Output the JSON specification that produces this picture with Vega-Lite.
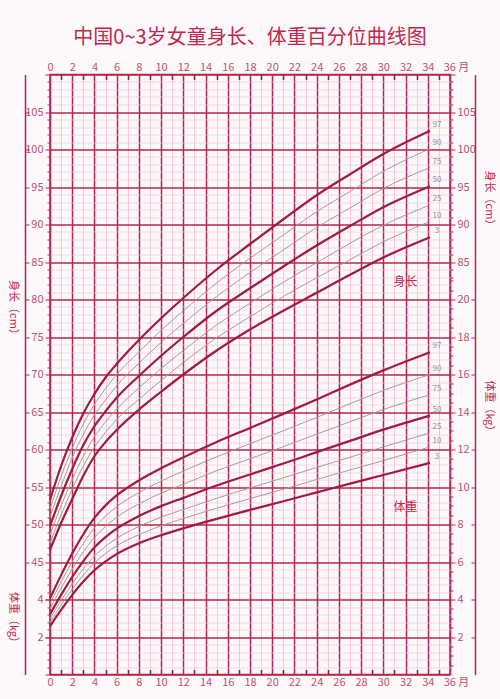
{
  "$schema": "https://vega.github.io/schema/vega-lite/v6.json",
  "autosize": {"type": "none"},
  "padding": {"left": 50, "top": 74.5, "right": 50, "bottom": 24.5},
  "width": 400,
  "height": 600,
  "background": "#fdf8f9",
  "title": {"text": "中国0~3岁女童身长、体重百分位曲线图", "fontSize": 20, "font": "Noto Sans CJK SC", "fontWeight": "normal", "color": "#c0284f", "offset": 14, "anchor": "middle"},
  "config": {
    "view": {"stroke": "#b8244c", "strokeWidth": 1.5},
    "axis": {"labelFont": "Noto Sans CJK SC", "titleFont": "Noto Sans CJK SC", "labelColor": "#b85570", "titleColor": "#c0284f", "labelFontSize": 11, "titleFontSize": 11, "titleFontWeight": "normal", "titleBaseline": "middle", "titleAlign": "center", "tickColor": "#b8244c", "domainColor": "#b8244c", "labelOverlap": false, "labelFlush": false}
  },
  "datasets": {
    "curves": [
      {"m":0,"p":"3","L":46.6,"w":2.58},{"m":0,"p":"10","L":47.5,"w":2.78},{"m":0,"p":"25","L":48.6,"w":2.97},{"m":0,"p":"50","L":49.8,"w":3.21},{"m":0,"p":"75","L":51.0,"w":3.50},{"m":0,"p":"90","L":52.1,"w":3.77},{"m":0,"p":"97","L":53.3,"w":4.06},
      {"m":1,"p":"3","L":50.2,"w":3.45},{"m":1,"p":"10","L":51.3,"w":3.71},{"m":1,"p":"25","L":52.5,"w":3.95},{"m":1,"p":"50","L":53.8,"w":4.25},{"m":1,"p":"75","L":55.1,"w":4.61},{"m":1,"p":"90","L":56.4,"w":4.94},{"m":1,"p":"97","L":57.8,"w":5.30},
      {"m":2,"p":"3","L":53.4,"w":4.25},{"m":2,"p":"10","L":54.7,"w":4.55},{"m":2,"p":"25","L":56.0,"w":4.84},{"m":2,"p":"50","L":57.4,"w":5.20},{"m":2,"p":"75","L":58.9,"w":5.63},{"m":2,"p":"90","L":60.2,"w":6.03},{"m":2,"p":"97","L":61.6,"w":6.45},
      {"m":3,"p":"3","L":56.5,"w":4.96},{"m":3,"p":"10","L":57.8,"w":5.31},{"m":3,"p":"25","L":59.1,"w":5.64},{"m":3,"p":"50","L":60.6,"w":6.05},{"m":3,"p":"75","L":62.0,"w":6.54},{"m":3,"p":"90","L":63.4,"w":6.99},{"m":3,"p":"97","L":64.8,"w":7.48},
      {"m":4,"p":"3","L":59.1,"w":5.56},{"m":4,"p":"10","L":60.3,"w":5.95},{"m":4,"p":"25","L":61.7,"w":6.32},{"m":4,"p":"50","L":63.1,"w":6.78},{"m":4,"p":"75","L":64.6,"w":7.31},{"m":4,"p":"90","L":66.0,"w":7.82},{"m":4,"p":"97","L":67.4,"w":8.35},
      {"m":5,"p":"3","L":61.0,"w":6.03},{"m":5,"p":"10","L":62.3,"w":6.45},{"m":5,"p":"25","L":63.7,"w":6.84},{"m":5,"p":"50","L":65.1,"w":7.33},{"m":5,"p":"75","L":66.6,"w":7.90},{"m":5,"p":"90","L":68.1,"w":8.45},{"m":5,"p":"97","L":69.6,"w":9.02},
      {"m":6,"p":"3","L":62.6,"w":6.42},{"m":6,"p":"10","L":64.0,"w":6.86},{"m":6,"p":"25","L":65.4,"w":7.26},{"m":6,"p":"50","L":66.9,"w":7.78},{"m":6,"p":"75","L":68.5,"w":8.38},{"m":6,"p":"90","L":70.0,"w":8.95},{"m":6,"p":"97","L":71.4,"w":9.55},
      {"m":8,"p":"3","L":65.3,"w":7.00},{"m":8,"p":"10","L":66.7,"w":7.46},{"m":8,"p":"25","L":68.2,"w":7.90},{"m":8,"p":"50","L":69.8,"w":8.45},{"m":8,"p":"75","L":71.5,"w":9.10},{"m":8,"p":"90","L":73.0,"w":9.70},{"m":8,"p":"97","L":74.6,"w":10.35},
      {"m":10,"p":"3","L":67.7,"w":7.43},{"m":10,"p":"10","L":69.2,"w":7.93},{"m":10,"p":"25","L":70.8,"w":8.39},{"m":10,"p":"50","L":72.5,"w":8.98},{"m":10,"p":"75","L":74.3,"w":9.67},{"m":10,"p":"90","L":75.9,"w":10.31},{"m":10,"p":"97","L":77.5,"w":11.00},
      {"m":12,"p":"3","L":70.0,"w":7.80},{"m":12,"p":"10","L":71.6,"w":8.32},{"m":12,"p":"25","L":73.2,"w":8.80},{"m":12,"p":"50","L":75.0,"w":9.42},{"m":12,"p":"75","L":76.8,"w":10.15},{"m":12,"p":"90","L":78.5,"w":10.85},{"m":12,"p":"97","L":80.2,"w":11.58},
      {"m":15,"p":"3","L":73.2,"w":8.30},{"m":15,"p":"10","L":74.9,"w":8.87},{"m":15,"p":"25","L":76.6,"w":9.40},{"m":15,"p":"50","L":78.5,"w":10.08},{"m":15,"p":"75","L":80.4,"w":10.87},{"m":15,"p":"90","L":82.2,"w":11.61},{"m":15,"p":"97","L":84.0,"w":12.40},
      {"m":18,"p":"3","L":76.0,"w":8.78},{"m":18,"p":"10","L":77.7,"w":9.38},{"m":18,"p":"25","L":79.5,"w":9.95},{"m":18,"p":"50","L":81.5,"w":10.67},{"m":18,"p":"75","L":83.6,"w":11.51},{"m":18,"p":"90","L":85.5,"w":12.31},{"m":18,"p":"97","L":87.4,"w":13.15},
      {"m":21,"p":"3","L":78.5,"w":9.24},{"m":21,"p":"10","L":80.4,"w":9.88},{"m":21,"p":"25","L":82.3,"w":10.49},{"m":21,"p":"50","L":84.4,"w":11.25},{"m":21,"p":"75","L":86.6,"w":12.15},{"m":21,"p":"90","L":88.6,"w":13.00},{"m":21,"p":"97","L":90.7,"w":13.90},
      {"m":24,"p":"3","L":80.9,"w":9.71},{"m":24,"p":"10","L":82.9,"w":10.40},{"m":24,"p":"25","L":84.9,"w":11.04},{"m":24,"p":"50","L":87.2,"w":11.86},{"m":24,"p":"75","L":89.6,"w":12.82},{"m":24,"p":"90","L":91.7,"w":13.71},{"m":24,"p":"97","L":93.9,"w":14.67},
      {"m":27,"p":"3","L":83.3,"w":10.18},{"m":27,"p":"10","L":85.3,"w":10.91},{"m":27,"p":"25","L":87.5,"w":11.59},{"m":27,"p":"50","L":89.8,"w":12.46},{"m":27,"p":"75","L":92.2,"w":13.48},{"m":27,"p":"90","L":94.4,"w":14.44},{"m":27,"p":"97","L":96.7,"w":15.46},
      {"m":30,"p":"3","L":85.6,"w":10.64},{"m":30,"p":"10","L":87.7,"w":11.41},{"m":30,"p":"25","L":89.9,"w":12.14},{"m":30,"p":"50","L":92.3,"w":13.06},{"m":30,"p":"75","L":94.8,"w":14.13},{"m":30,"p":"90","L":97.1,"w":15.15},{"m":30,"p":"97","L":99.4,"w":16.22},
      {"m":34.2,"p":"3","L":88.3,"w":11.29},{"m":34.2,"p":"10","L":90.4,"w":12.14},{"m":34.2,"p":"25","L":92.6,"w":12.89},{"m":34.2,"p":"50","L":95.1,"w":13.81},{"m":34.2,"p":"75","L":97.6,"w":14.93},{"m":34.2,"p":"90","L":100.1,"w":16.00},{"m":34.2,"p":"97","L":102.5,"w":17.19}
    ]
  },
  "resolve": {"scale": {"x": "independent", "y": "independent"}},
  "layer": [
    {
      "data": {"name": "curves"},
      "mark": {"type": "line", "interpolate": "monotone"},
      "encoding": {
        "x": {"field": "m", "type": "quantitative", "scale": {"domain": [0, 36], "nice": false, "zero": false},
          "axis": {"orient": "bottom", "values": [0,1,2,3,4,5,6,7,8,9,10,11,12,13,14,15,16,17,18,19,20,21,22,23,24,25,26,27,28,29,30,31,32,33,34,35,36],
            "labelExpr": "datum.value % 2 == 0 ? (datum.value == 36 ? '36 月' : datum.label) : ''",
            "labelOffset": {"condition": {"test": "datum.value == 36", "value": 6}, "value": 0},
            "labelPadding": 7, "ticks": true, "tickSize": -5, "tickWidth": 1.5, "tickColor": "#8e1a3e",
            "tickOpacity": {"condition": {"test": "datum.value % 2 == 1", "value": 1}, "value": 0},
            "domain": false, "grid": true,
            "gridColor": {"condition": {"test": "datum.value % 2 == 0", "value": "#b8244c"}, "value": "#f0bccb"},
            "gridWidth": {"condition": {"test": "datum.value % 2 == 0", "value": 1.5}, "value": 0.8},
            "title": null}},
        "y": {"field": "L", "type": "quantitative", "scale": {"domain": [30, 110], "nice": false, "zero": false},
          "axis": {"orient": "left", "values": [30,31,32,33,34,35,36,37,38,39,40,41,42,43,44,45,46,47,48,49,50,51,52,53,54,55,56,57,58,59,60,61,62,63,64,65,66,67,68,69,70,71,72,73,74,75,76,77,78,79,80,81,82,83,84,85,86,87,88,89,90,91,92,93,94,95,96,97,98,99,100,101,102,103,104,105,106,107,108,109,110],
            "labelExpr": "datum.value % 5 == 0 && datum.value >= 45 && datum.value <= 105 ? datum.label : ''",
            "tickSize": {"condition": {"test": "datum.value % 5 == 0", "value": 5}, "value": 3},
            "labelPadding": 2, "domain": false, "grid": true,
            "gridColor": {"condition": {"test": "datum.value % 5 == 0", "value": "#b8244c"}, "value": "#f4ccd6"},
            "gridWidth": {"condition": {"test": "datum.value % 5 == 0", "value": 1.5}, "value": 0.7},
            "title": "身长（cm）", "titleAngle": 90, "titleX": -38, "titleY": 235}},
        "detail": {"field": "p"},
        "color": {"condition": {"test": "datum.p == '3' || datum.p == '50' || datum.p == '97'", "value": "#9e1b45"}, "value": "#aa9a9d"},
        "strokeWidth": {"condition": {"test": "datum.p == '3' || datum.p == '50' || datum.p == '97'", "value": 2.2}, "value": 1}
      }
    },
    {
      "data": {"name": "curves"},
      "mark": {"type": "line", "interpolate": "monotone"},
      "encoding": {
        "x": {"field": "m", "type": "quantitative", "scale": {"domain": [0, 36], "nice": false, "zero": false},
          "axis": {"orient": "top", "values": [0,1,2,3,4,5,6,7,8,9,10,11,12,13,14,15,16,17,18,19,20,21,22,23,24,25,26,27,28,29,30,31,32,33,34,35,36],
            "labelExpr": "datum.value % 2 == 0 ? (datum.value == 36 ? '36 月' : datum.label) : ''",
            "labelOffset": {"condition": {"test": "datum.value == 36", "value": 6}, "value": 0},
            "labelPadding": 7, "ticks": true, "tickSize": -5, "tickWidth": 1.5, "tickColor": "#8e1a3e",
            "tickOpacity": {"condition": {"test": "datum.value % 2 == 1", "value": 1}, "value": 0},
            "domain": false, "grid": false, "title": null}},
        "y": {"field": "w", "type": "quantitative", "scale": {"domain": [0, 32], "nice": false, "zero": false},
          "axis": {"orient": "right", "values": [0.5,1,1.5,2,2.5,3,3.5,4,4.5,5,5.5,6,6.5,7,7.5,8,8.5,9,9.5,10,10.5,11,11.5,12,12.5,13,13.5,14,14.5,15,15.5,16,16.5,17,17.5,18,18.5,19,19.5,20,20.5,21],
            "labelExpr": "datum.value % 2 == 0 && datum.value >= 2 && datum.value <= 20 ? datum.label : ''",
            "tickSize": {"condition": {"test": "datum.value % 2 == 0", "value": 5}, "value": 3},
            "labelPadding": 2, "domain": false, "grid": false,
            "title": "体重（kg）", "titleAngle": 90, "titleX": 38, "titleY": 333.5}},
        "detail": {"field": "p"},
        "color": {"condition": {"test": "datum.p == '3' || datum.p == '50' || datum.p == '97'", "value": "#9e1b45"}, "value": "#aa9a9d"},
        "strokeWidth": {"condition": {"test": "datum.p == '3' || datum.p == '50' || datum.p == '97'", "value": 2.2}, "value": 1}
      }
    },
    {
      "data": {"name": "curves"},
      "transform": [{"filter": "datum.m == 34.2"}],
      "mark": {"type": "text", "fontSize": 8, "color": "#9a8f91", "dx": 7, "dy": -6, "align": "center", "font": "Noto Sans CJK SC"},
      "encoding": {
        "x": {"field": "m", "type": "quantitative", "scale": {"domain": [0, 36], "nice": false, "zero": false}, "axis": null},
        "y": {"field": "w", "type": "quantitative", "scale": {"domain": [0, 32], "nice": false, "zero": false},
          "axis": {"orient": "left", "values": [2, 4], "tickSize": 5, "labelPadding": 2, "domain": false, "grid": false,
            "title": "体重（kg）", "titleAngle": 90, "titleX": -38, "titleY": 545}},
        "text": {"field": "p"}
      }
    },
    {
      "data": {"name": "curves"},
      "transform": [{"filter": "datum.m == 34.2"}],
      "mark": {"type": "text", "fontSize": 8, "color": "#9a8f91", "dx": 7, "dy": -6, "align": "center", "font": "Noto Sans CJK SC"},
      "encoding": {
        "x": {"field": "m", "type": "quantitative", "scale": {"domain": [0, 36], "nice": false, "zero": false}, "axis": null},
        "y": {"field": "L", "type": "quantitative", "scale": {"domain": [30, 110], "nice": false, "zero": false},
          "axis": {"orient": "right", "values": [83,84,85,86,87,88,89,90,91,92,93,94,95,96,97,98,99,100,101,102,103,104,105,106,107,108,109,110],
            "labelExpr": "datum.value % 5 == 0 && datum.value <= 105 ? datum.label : ''",
            "tickSize": {"condition": {"test": "datum.value % 5 == 0", "value": 5}, "value": 3},
            "labelPadding": 2, "domain": false, "grid": false,
            "title": "身长（cm）", "titleAngle": 90, "titleX": 38, "titleY": 125.5}},
        "text": {"field": "p"}
      }
    },
    {
      "data": {"values": [{"label": "身长"}]},
      "mark": {"type": "text", "fontSize": 12, "color": "#c0284f", "font": "Noto Sans CJK SC"},
      "encoding": {
        "x": {"datum": 32, "type": "quantitative", "scale": {"domain": [0, 36], "nice": false, "zero": false}, "axis": null},
        "y": {"datum": 82.3, "type": "quantitative", "scale": {"domain": [30, 110], "nice": false, "zero": false},
          "axis": {"orient": "left", "offset": 25, "values": [45,50,55,60,65,70,75,80,85,90,95,100,105], "tickSize": -4, "labels": false, "domain": true, "domainWidth": 1.5, "grid": false, "title": null}},
        "text": {"field": "label"}
      }
    },
    {
      "data": {"values": [{"label": "体重"}]},
      "mark": {"type": "text", "fontSize": 12, "color": "#c0284f", "font": "Noto Sans CJK SC"},
      "encoding": {
        "x": {"datum": 32, "type": "quantitative", "scale": {"domain": [0, 36], "nice": false, "zero": false}, "axis": null},
        "y": {"datum": 8.96, "type": "quantitative", "scale": {"domain": [0, 32], "nice": false, "zero": false},
          "axis": {"orient": "right", "offset": 25, "values": [2,4,6,8,10,12,14,16,18,20], "tickSize": -4, "labels": false, "domain": true, "domainWidth": 1.5, "grid": false, "title": null}},
        "text": {"field": "label"}
      }
    }
  ]
}
